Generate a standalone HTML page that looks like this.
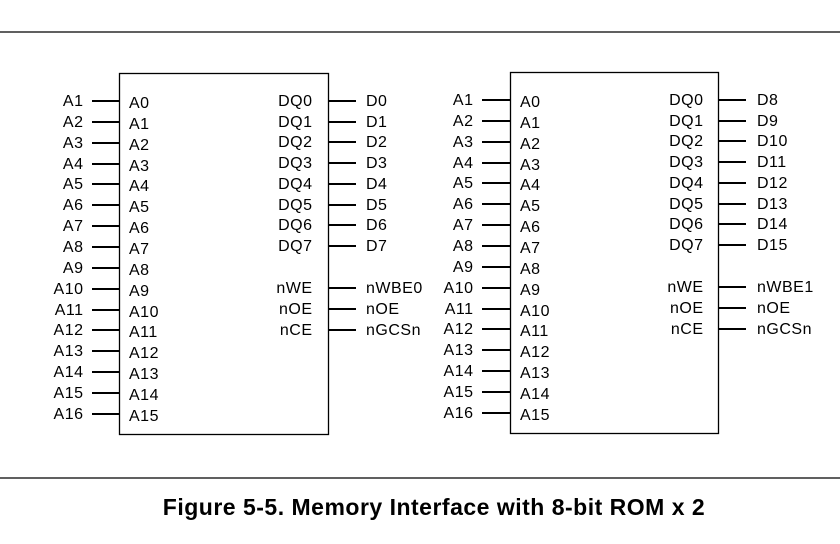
<!DOCTYPE html><html><head><style>body{margin:0;background:#fff}svg{display:block}text{font-family:"Liberation Sans",Arial,sans-serif;font-size:16px;letter-spacing:0.5px;fill:#000}</style></head><body>
<svg width="840" height="544" viewBox="0 0 840 544" xmlns="http://www.w3.org/2000/svg">
<line x1="0" y1="32" x2="840" y2="32" stroke="#000" stroke-width="1.3"/>
<line x1="0" y1="478" x2="840" y2="478" stroke="#000" stroke-width="1.3"/>
<g stroke="#000" stroke-width="1.3" fill="none">
<rect x="119.5" y="73.5" width="209" height="361"/>
<rect x="510.5" y="72.5" width="208" height="361"/>
</g>
<g stroke="#000" stroke-width="2">
<path d="M92 101H120M92 122H120M92 143H120M92 164H120M92 184H120M92 205H120M92 226H120M92 247H120M92 268H120M92 289H120M92 310H120M92 330H120M92 351H120M92 372H120M92 393H120M92 414H120"/>
<path d="M328 101H356M328 122H356M328 142H356M328 163H356M328 184H356M328 205H356M328 225H356M328 246H356M328 288H356M328 309H356M328 330H356"/>
<path d="M482 100H511M482 121H511M482 142H511M482 163H511M482 183H511M482 204H511M482 225H511M482 246H511M482 267H511M482 288H511M482 309H511M482 329H511M482 350H511M482 371H511M482 392H511M482 413H511"/>
<path d="M718 100H746M718 121H746M718 141H746M718 162H746M718 183H746M718 204H746M718 224H746M718 245H746M718 287H746M718 308H746M718 329H746"/>
</g>
<g text-anchor="end">
<text x="83.5" y="106">A1</text><text x="83.5" y="127">A2</text><text x="83.5" y="148">A3</text><text x="83.5" y="169">A4</text><text x="83.5" y="189">A5</text><text x="83.5" y="210">A6</text><text x="83.5" y="231">A7</text><text x="83.5" y="252">A8</text><text x="83.5" y="273">A9</text><text x="83.5" y="294">A10</text><text x="83.5" y="315">A11</text><text x="83.5" y="335">A12</text><text x="83.5" y="356">A13</text><text x="83.5" y="377">A14</text><text x="83.5" y="398">A15</text><text x="83.5" y="419">A16</text>
<text x="312.5" y="106">DQ0</text><text x="312.5" y="127">DQ1</text><text x="312.5" y="147">DQ2</text><text x="312.5" y="168">DQ3</text><text x="312.5" y="189">DQ4</text><text x="312.5" y="210">DQ5</text><text x="312.5" y="230">DQ6</text><text x="312.5" y="251">DQ7</text><text x="312.5" y="293">nWE</text><text x="312.5" y="314">nOE</text><text x="312.5" y="335">nCE</text>
<text x="473.5" y="105">A1</text><text x="473.5" y="126">A2</text><text x="473.5" y="147">A3</text><text x="473.5" y="168">A4</text><text x="473.5" y="188">A5</text><text x="473.5" y="209">A6</text><text x="473.5" y="230">A7</text><text x="473.5" y="251">A8</text><text x="473.5" y="272">A9</text><text x="473.5" y="293">A10</text><text x="473.5" y="314">A11</text><text x="473.5" y="334">A12</text><text x="473.5" y="355">A13</text><text x="473.5" y="376">A14</text><text x="473.5" y="397">A15</text><text x="473.5" y="418">A16</text>
<text x="703.5" y="105">DQ0</text><text x="703.5" y="126">DQ1</text><text x="703.5" y="146">DQ2</text><text x="703.5" y="167">DQ3</text><text x="703.5" y="188">DQ4</text><text x="703.5" y="209">DQ5</text><text x="703.5" y="229">DQ6</text><text x="703.5" y="250">DQ7</text><text x="703.5" y="292">nWE</text><text x="703.5" y="313">nOE</text><text x="703.5" y="334">nCE</text>
</g>
<g>
<text x="129" y="108">A0</text><text x="129" y="129">A1</text><text x="129" y="150">A2</text><text x="129" y="171">A3</text><text x="129" y="191">A4</text><text x="129" y="212">A5</text><text x="129" y="233">A6</text><text x="129" y="254">A7</text><text x="129" y="275">A8</text><text x="129" y="296">A9</text><text x="129" y="317">A10</text><text x="129" y="337">A11</text><text x="129" y="358">A12</text><text x="129" y="379">A13</text><text x="129" y="400">A14</text><text x="129" y="421">A15</text>
<text x="366" y="106">D0</text><text x="366" y="127">D1</text><text x="366" y="147">D2</text><text x="366" y="168">D3</text><text x="366" y="189">D4</text><text x="366" y="210">D5</text><text x="366" y="230">D6</text><text x="366" y="251">D7</text><text x="366" y="293">nWBE0</text><text x="366" y="314">nOE</text><text x="366" y="335">nGCSn</text>
<text x="520" y="107">A0</text><text x="520" y="128">A1</text><text x="520" y="149">A2</text><text x="520" y="170">A3</text><text x="520" y="190">A4</text><text x="520" y="211">A5</text><text x="520" y="232">A6</text><text x="520" y="253">A7</text><text x="520" y="274">A8</text><text x="520" y="295">A9</text><text x="520" y="316">A10</text><text x="520" y="336">A11</text><text x="520" y="357">A12</text><text x="520" y="378">A13</text><text x="520" y="399">A14</text><text x="520" y="420">A15</text>
<text x="757" y="105">D8</text><text x="757" y="126">D9</text><text x="757" y="146">D10</text><text x="757" y="167">D11</text><text x="757" y="188">D12</text><text x="757" y="209">D13</text><text x="757" y="229">D14</text><text x="757" y="250">D15</text><text x="757" y="292">nWBE1</text><text x="757" y="313">nOE</text><text x="757" y="334">nGCSn</text>
</g>
<text x="434" y="515" text-anchor="middle" style="font-size:23px;font-weight:bold;letter-spacing:0.5px">Figure 5-5. Memory Interface with 8-bit ROM x 2</text>
</svg>
</body></html>
